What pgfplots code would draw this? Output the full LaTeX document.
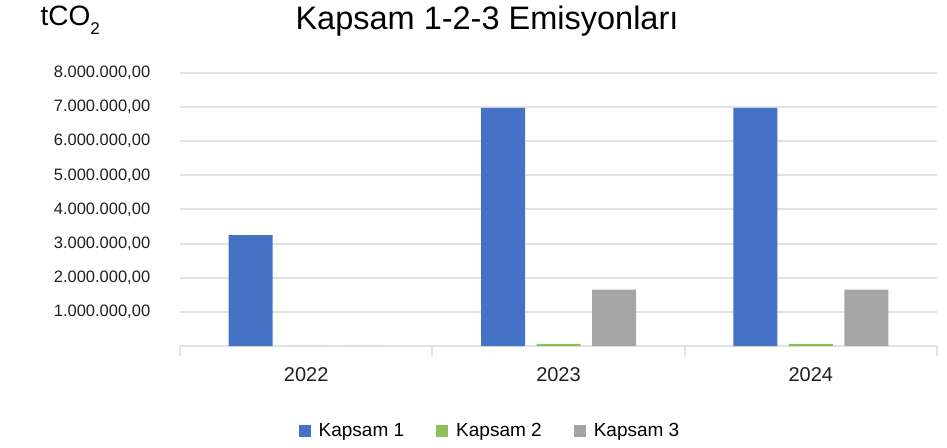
\documentclass[border=0pt]{standalone}
\usepackage{fontspec}
\setmainfont{Liberation Sans}
\usepackage{pgfplots}
\pgfplotsset{compat=1.18}
\definecolor{kblue}{HTML}{4472C4}
\definecolor{kgreen}{HTML}{8CBF5A}
\definecolor{kgray}{HTML}{A5A5A5}
\definecolor{gridc}{HTML}{E3E3E3}
\begin{document}
\begin{tikzpicture}[x=1pt,y=1pt]
\useasboundingbox (0,0) rectangle (947,447);
\begin{axis}[
at={(180pt,101pt)},anchor=south west,
scale only axis,width=757pt,height=273pt,
ybar=11.5pt,bar width=44pt,
xmin=-0.5,xmax=2.5,ymin=0,ymax=8000000,
xtick={0,1,2},xticklabels={2022,2023,2024},
minor xtick={-0.5,0.5,1.5,2.5},
major x tick style={draw=none},
minor x tick style={draw=gridc,line width=2pt},
minor tick length=10pt,
tick align=outside,
ytick={1000000,2000000,3000000,4000000,5000000,6000000,7000000,8000000},
yticklabels={{1.000.000,00},{2.000.000,00},{3.000.000,00},{4.000.000,00},{5.000.000,00},{6.000.000,00},{7.000.000,00},{8.000.000,00}},
scaled y ticks=false,
ymajorgrids,
major grid style={draw=gridc,line width=2pt},
y tick style={draw=none},
axis x line*=bottom,axis y line*=left,
y axis line style={draw=none},
x axis line style={draw=gridc,line width=2pt,-},
tick label style={text=black!88},
yticklabel style={font=\fontsize{16.5}{19}\selectfont,xshift=-22pt},
xticklabel style={font=\fontsize{20}{23}\selectfont,yshift=-14pt},
legend style={draw=none,fill=none,font=\fontsize{19}{21}\selectfont,at={(0.4095,-0.311)},anchor=center,legend columns=-1,
/tikz/every odd column/.append style={column sep=6pt},
/tikz/every even column/.append style={column sep=30pt}},
legend image code/.code={\fill[#1,draw=none] (0pt,-6pt) rectangle (12pt,6pt);},
]
\addplot[fill=kblue,draw=none] coordinates {(0,3250000) (1,6980000) (2,6980000)};
\addlegendentry{Kapsam 1}
\addplot[fill=kgreen,draw=none] coordinates {(0,0) (1,60000) (2,60000)};
\addlegendentry{Kapsam 2}
\addplot[fill=kgray,draw=none] coordinates {(0,0) (1,1650000) (2,1650000)};
\addlegendentry{Kapsam 3}
\end{axis}
\node[font=\fontsize{32.5}{35}\selectfont] at (487,426) {Kapsam 1-2-3 Emisyonları};
\node[font=\fontsize{28}{31}\selectfont,anchor=west] at (37,427) {tCO\raisebox{-9pt}{\fontsize{17}{19}\selectfont 2}};
\end{tikzpicture}
\end{document}
